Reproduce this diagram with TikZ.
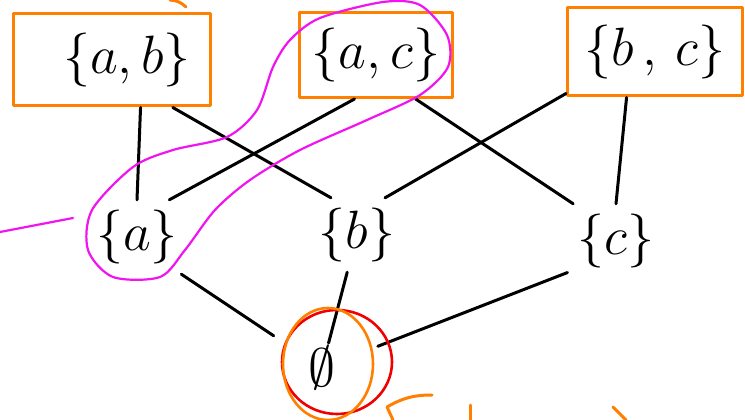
\documentclass[tikz,border=0pt]{standalone}
\usepackage{amsmath}
\usepackage{amssymb}
\usepackage{graphicx}
\usepackage{tikz}
\definecolor{penorange}{RGB}{255,128,0}
\definecolor{penpink}{RGB}{240,20,240}
\definecolor{penred}{RGB}{240,0,0}
\newcommand{\setlabel}[1]{\scalebox{2.17}{\Huge$#1$}}

\begin{document}
\begin{tikzpicture}[x=1pt,y=-1pt,line cap=round,line join=round,
	elem/.style={inner sep=10pt},
	pick/.style={elem,draw=penorange,line width=3pt},
	hasse/.style={line width=3pt},
	scribble/.style={line width=3pt}]
	\useasboundingbox (0,0) rectangle (745,420);
	\node[pick,minimum width=197pt,minimum height=92pt] (ab) at (112,60) {\hspace{30pt}\setlabel{\{a,b\}}};
	\node[pick,minimum width=153pt,minimum height=85pt] (ac) at (376,55) {\setlabel{\{a,c\}}};
	\node[pick,minimum width=175pt,minimum height=88pt] (bc) at (655,52) {\setlabel{\{b\,,\,c\}}};
	\node[elem] (a) at (137,237) {\setlabel{\{a\}}};
	\node[elem] (b) at (357,235) {\setlabel{\{b\}}};
	\node[elem] (c) at (616,241) {\setlabel{\{c\}}};
	\node[elem,inner sep=3pt] (empty) at (322,368) {\setlabel{\emptyset}};
	\path[hasse]	(ab.-59) edge (a.north)
			(ab.-38) edge (b.125)
			(ac.-116) edge (a.49)
			(ac.-48) edge (c.139)
			(bc.-155) edge (b.53)
			(bc.-122) edge (c.north)
			(a.-40) edge [shorten >=38pt] (empty)
			(b) edge (empty)
			(c.-147) edge [shorten >=42pt] (empty);
	\draw[penpink,line width=2.2pt] plot[smooth cycle] coordinates {(383,2) (420,5) (447,35) (448,67) (420,95)
		(367,120) (300,150) (250,180) (215,210) (185,250) (160,277) (113,277) (88,250) (92,210)
		(133,167) (173,150) (227,137) (257,110) (273,67) (290,40) (320,18)};
	\draw[penpink,line width=2.2pt] (0,232) -- (73,218);
	\draw[penred,line width=2.6pt] (337,362) ellipse [x radius=55,y radius=52];
	\draw[penorange,line width=2.6pt] (328,364) ellipse [x radius=45,y radius=56];
	\draw[penorange,scribble] (170,0) to[bend left=20] (186,7);
	\draw[penorange,scribble] (393,420) -- (387,407) to[bend left=15] (432,395);
	\draw[penorange,scribble] (470,405) -- (470,420);
	\draw[penorange,scribble] (613,407) -- (626,420);
\end{tikzpicture}
\end{document}
